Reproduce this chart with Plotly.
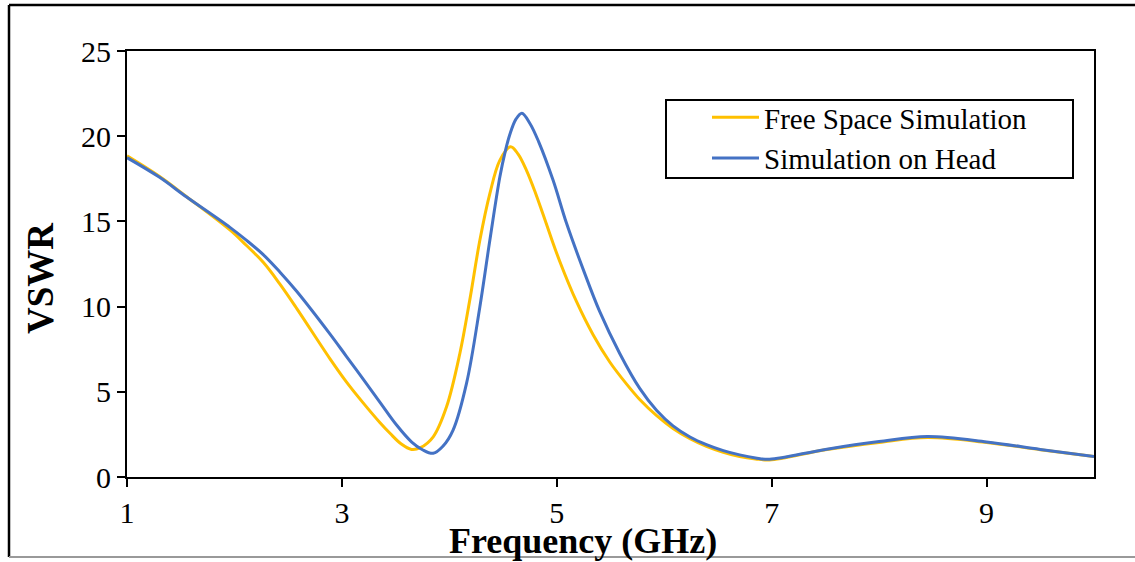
import plotly.graph_objects as go

# Data
freq_free = [1.0, 1.3, 1.555, 1.958, 2.11, 2.268, 2.42, 2.579, 2.888, 3.04, 3.198, 3.353, 3.45, 3.55,
             3.648, 3.73, 3.85, 3.974, 4.098, 4.19, 4.284, 4.377, 4.47, 4.57, 4.64, 4.718, 4.8,
             4.873, 4.95, 5.028, 5.183, 5.338, 5.493, 5.65, 5.772, 5.93, 6.082, 6.24, 6.393, 6.55,
             6.702, 6.85, 6.98, 7.5, 8.0, 8.45, 9.0, 9.5, 10.0]
vswr_free = [18.85, 17.65, 16.45, 14.5, 13.6, 12.6, 11.35, 9.9, 6.95, 5.6, 4.35, 3.2, 2.55, 1.95,
             1.62, 1.72, 2.36, 4.12, 7.25, 10.38, 13.89, 16.63, 18.58, 19.38, 18.95, 18.0, 16.7,
             15.4, 14.0, 12.65, 10.3, 8.35, 6.75, 5.45, 4.55, 3.6, 2.85, 2.25, 1.8, 1.45,
             1.2, 1.06, 1.0, 1.6, 2.03, 2.32, 2.03, 1.6, 1.2]

freq_head = [1.0, 1.3, 1.555, 1.958, 2.11, 2.268, 2.42, 2.579, 2.888, 3.04, 3.198, 3.353, 3.509, 3.65,
             3.75, 3.85, 3.94, 4.035, 4.16, 4.284, 4.377, 4.47, 4.52, 4.563, 4.62, 4.675, 4.75,
             4.83, 4.966, 5.09, 5.245, 5.4, 5.586, 5.772, 5.93, 6.082, 6.24, 6.393, 6.55, 6.702,
             6.85, 6.98, 7.5, 8.0, 8.45, 9.0, 9.5, 10.0]
vswr_head = [18.74, 17.6, 16.43, 14.65, 13.9, 13.05, 12.05, 10.9, 8.4, 7.1, 5.75, 4.4, 3.05, 2.05,
             1.6, 1.39, 1.8, 2.75, 5.49, 9.98, 13.89, 17.6, 19.1, 20.1, 21.0, 21.35, 20.75,
             19.7, 17.41, 14.9, 12.2, 9.7, 7.25, 5.2, 3.9, 3.0, 2.35, 1.9, 1.55, 1.3,
             1.12, 1.04, 1.62, 2.08, 2.37, 2.06, 1.62, 1.2]

x_ticks = [1, 3, 5, 7, 9]
y_ticks = [0, 5, 10, 15, 20, 25]

FONT = "Liberation Serif"

fig = go.Figure()
fig.add_trace(go.Scatter(x=freq_free, y=vswr_free, mode="lines", name="Free Space Simulation",
                         line=dict(color="#FFC000", width=3, shape="spline", smoothing=1.0)))
fig.add_trace(go.Scatter(x=freq_head, y=vswr_head, mode="lines", name="Simulation on Head",
                         line=dict(color="#4472C4", width=3, shape="spline", smoothing=1.0)))

W, H = 1135, 562
L, R, T, B = 127, 41, 51, 85
pw, ph = W - L - R, H - T - B

def px(x):
    return (x - L) / pw

def py(y):
    return (H - B - y) / ph

axis_common = dict(showgrid=False, zeroline=False, showline=True, linecolor="black", linewidth=2,
                   mirror=True, ticks="outside", ticklen=8, tickwidth=2, tickcolor="black",
                   tickfont=dict(family=FONT, size=30, color="black"))

fig.update_xaxes(range=[1, 10], tickvals=x_ticks, **axis_common)
fig.update_yaxes(range=[0, 25], tickvals=y_ticks, **axis_common)

fig.update_layout(
    width=W, height=H,
    margin=dict(l=L, r=R, t=T, b=B),
    plot_bgcolor="white", paper_bgcolor="white",
    font=dict(family=FONT, color="black"),
    legend=dict(x=px(707), y=py(92), xanchor="left", yanchor="top",
                bgcolor="rgba(0,0,0,0)", borderwidth=0,
                font=dict(family=FONT, size=29, color="black"),
                itemwidth=47, tracegroupgap=0),
    shapes=[
        # legend frame
        dict(type="rect", xref="paper", yref="paper", x0=px(666), x1=px(1073), y0=py(178), y1=py(100),
             line=dict(color="black", width=2)),
        # outer frame
        dict(type="line", xref="paper", yref="paper", x0=px(9), x1=px(1140), y0=py(5), y1=py(5),
             line=dict(color="black", width=2.5)),
        dict(type="line", xref="paper", yref="paper", x0=px(9), x1=px(9), y0=py(5), y1=py(557),
             line=dict(color="black", width=2.5)),
        dict(type="line", xref="paper", yref="paper", x0=px(9), x1=px(1140), y0=py(557), y1=py(557),
             line=dict(color="#999999", width=2)),
    ],
    annotations=[
        dict(text="<b>Frequency (GHz)</b>", xref="paper", yref="paper", x=px(583), y=py(541),
             xanchor="center", yanchor="middle", showarrow=False,
             font=dict(family=FONT, size=36, color="black")),
        dict(text="<b>VSWR</b>", xref="paper", yref="paper", x=px(40), y=py(278),
             xanchor="center", yanchor="middle", showarrow=False, textangle=-90,
             font=dict(family=FONT, size=37, color="black")),
    ],
)

fig.write_html("out.html")
